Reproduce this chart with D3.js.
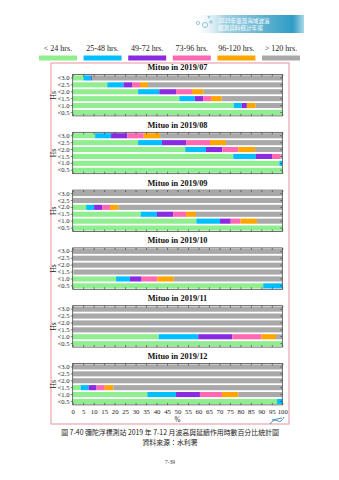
<!DOCTYPE html>
<html><head><meta charset="utf-8">
<script src="https://cdn.jsdelivr.net/npm/d3@7"></script>
<style>html,body{margin:0;padding:0;background:#fff;}svg{display:block;}</style>
</head><body>
<script>
// ---- data ----
const durations = ["< 24 hrs.", "25-48 hrs.", "49-72 hrs.", "73-96 hrs.", "96-120 hrs.", "> 120 hrs."];
const colors = ["#90ee90", "#00bfff", "#8a2be2", "#ff69b4", "#ffa500", "#a9a9a9"];
const hsLevels = ["<3.0", "<2.5", "<2.0", "<1.5", "<1.0", "<0.5"];
const months = ["2019/07", "2019/08", "2019/09", "2019/10", "2019/11", "2019/12"];
const xTicks = [0,5,10,15,20,25,30,35,40,45,50,55,60,65,70,75,80,85,90,95,100];
// percentage of each duration class, per Hs level (rows), per month
const jul = [
  [5.1, 3.7, 0.4, 0, 0, 90.8],
  [16.5, 7.7, 4.1, 3.8, 3.8, 64.1],
  [31.2, 10.1, 8.0, 7.6, 5.4, 37.7],
  [50.9, 7.3, 4.0, 3.8, 5.1, 28.9],
  [76.8, 3.8, 2.5, 0, 4.2, 12.7],
  [100, 0, 0, 0, 0, 0]];
const aug = [
  [10.7, 7.6, 7.8, 7.8, 7.8, 58.3],
  [31.2, 11.4, 11.5, 11.4, 7.6, 26.9],
  [53.7, 9.9, 7.8, 7.6, 8.0, 13.0],
  [76.6, 10.8, 7.7, 4.1, 0, 0.8],
  [98.6, 1.4, 0, 0, 0, 0],
  [100, 0, 0, 0, 0, 0]];
const sep = [
  [0, 0, 0, 0, 0, 100],
  [0, 0, 0, 0, 0, 100],
  [6.4, 3.8, 3.8, 3.8, 4.0, 78.2],
  [32.4, 7.8, 7.7, 6.2, 4.7, 41.2],
  [59.0, 11.3, 5.1, 4.6, 7.9, 12.1],
  [100, 0, 0, 0, 0, 0]];
const oct = [
  [0, 0, 0, 0, 0, 100],
  [0, 0, 0, 0, 0, 100],
  [0, 0, 0, 0, 0, 100],
  [0.5, 0, 0, 0, 0, 99.5],
  [20.7, 6.6, 5.6, 7.5, 7.8, 51.8],
  [90.9, 9.1, 0, 0, 0, 0]];
const nov = [
  [0, 0, 0, 0, 0, 100],
  [0, 0, 0, 0, 0, 100],
  [0, 0, 0, 0, 0, 100],
  [0, 0, 0, 0, 0, 100],
  [41.0, 18.9, 16.3, 13.8, 7.0, 3.0],
  [100, 0, 0, 0, 0, 0]];
const dec = [
  [0, 0, 0, 0, 0, 100],
  [0, 0, 0, 0, 0, 100],
  [0, 0, 0, 0, 0, 100],
  [3.8, 3.8, 3.8, 3.9, 4.1, 80.6],
  [35.6, 13.7, 11.4, 10.5, 7.8, 21.0],
  [97.5, 2.5, 0, 0, 0, 0]];
const monthData = [jul, aug, sep, oct, nov, dec];
const captionText = "圖 7-40 彌陀浮標測站 2019 年 7-12 月波高與延續作用時數百分比統計圖";
const sourceText = "資料來源：水利署";
const pageText = "7-39";
const bannerLines = ["2019年臺灣海域波浪", "觀測資料統計年報"];

// ---- drawing ----
const W = 339, H = 480;
const serif = "'Liberation Serif','DejaVu Serif',serif";
const svg = d3.select("body").append("svg").attr("width", W).attr("height", H);

// banner
const defs = svg.append("defs");
const lg = defs.append("linearGradient").attr("id", "bn").attr("x1", 0).attr("x2", 1);
lg.append("stop").attr("offset", 0).attr("stop-color", "#ffffff").attr("stop-opacity", 0);
lg.append("stop").attr("offset", 0.3).attr("stop-color", "#9fd0e2");
lg.append("stop").attr("offset", 0.9).attr("stop-color", "#2f9cc4");
lg.append("stop").attr("offset", 1).attr("stop-color", "#2f9cc4").attr("stop-opacity", 0.4);
svg.append("rect").attr("x", 192).attr("y", 15).attr("width", 112).attr("height", 18).attr("fill", "url(#bn)");
[[198, 23, 1.6], [205, 25, 2.6], [211, 22, 1.2], [209, 17, 0.8]].forEach(c => {
  svg.append("circle").attr("cx", c[0]).attr("cy", c[1]).attr("r", c[2])
    .attr("fill", "none").attr("stroke", "#7fb8d0").attr("stroke-width", 0.8);
});
bannerLines.forEach((t, i) => {
  svg.append("text").attr("x", 218).attr("y", 22.5 + i * 7.3).text(t)
    .attr("font-family", "'Noto Sans CJK TC',sans-serif").attr("font-size", 5.6)
    .attr("fill", "#fff");
});

// legend
const legX = d3.scalePoint().domain(durations).range([58, 281]);
durations.forEach((d, i) => {
  const cx = legX(d);
  svg.append("text").attr("x", cx).attr("y", 50.5).attr("text-anchor", "middle")
    .attr("font-family", serif).attr("font-size", 8).attr("fill", "#222").text(d);
  svg.append("rect").attr("x", cx - 19).attr("y", 55.5).attr("width", 38).attr("height", 5)
    .attr("fill", colors[i]);
});

// outer frame
svg.append("rect").attr("x", 51).attr("y", 63).attr("width", 238).attr("height", 361)
  .attr("fill", "none").attr("stroke", "#eda3ad").attr("stroke-width", 1.2);

const x = d3.scaleLinear().domain([0, 100]).range([72.7, 282.3]);
const panelStep = 57.8, firstTitle = 67;

monthData.forEach((rows, m) => {
  const ty = firstTitle + m * panelStep;
  const top = ty + 7.5, plotH = 41.4;
  const y = d3.scaleBand().domain(hsLevels).range([top, top + plotH]).paddingInner(0.26).paddingOuter(0.13);
  const g = svg.append("g");
  g.append("text").attr("x", (x(0) + x(100)) / 2).attr("y", ty + 3)
    .attr("text-anchor", "middle").attr("font-family", serif).attr("font-weight", "bold")
    .attr("font-size", 8.3).attr("fill", "#111").text("Mituo in " + months[m]);

  rows.forEach((vals, r) => {
    let acc = 0;
    vals.forEach((v, c) => {
      if (v > 0) {
        g.append("rect").attr("x", x(acc)).attr("y", y(hsLevels[r]))
          .attr("width", x(acc + v) - x(acc)).attr("height", y.bandwidth())
          .attr("fill", colors[c]);
      }
      acc += v;
    });
  });

  // frame
  g.append("rect").attr("x", x(0)).attr("y", top).attr("width", x(100) - x(0)).attr("height", plotH)
    .attr("fill", "none").attr("stroke", "#333").attr("stroke-width", 0.7);

  // y axis
  const ya = g.append("g").attr("transform", `translate(${x(0)},0)`)
    .call(d3.axisLeft(y).tickSize(2).tickPadding(1.2));
  ya.select(".domain").remove();
  ya.selectAll("text").attr("font-family", serif).attr("font-size", 6.6).attr("fill", "#222");
  ya.selectAll("line").attr("stroke", "#333").attr("stroke-width", 0.6);
  const yr = g.append("g").attr("transform", `translate(${x(100)},0)`)
    .call(d3.axisLeft(y).tickSize(2).tickFormat(""));
  yr.select(".domain").remove();
  yr.selectAll("line").attr("stroke", "#333").attr("stroke-width", 0.6);

  // top ticks (inward)
  const xt = g.append("g").attr("transform", `translate(0,${top})`)
    .call(d3.axisBottom(x).tickValues(xTicks).tickSize(2).tickFormat(""));
  xt.select(".domain").remove();
  xt.selectAll("line").attr("stroke", "#333").attr("stroke-width", 0.6);

  // bottom ticks (inward), labels on last panel
  const last = m === monthData.length - 1;
  const xb = g.append("g").attr("transform", `translate(0,${top + plotH})`)
    .call(d3.axisTop(x).tickValues(xTicks).tickSize(2).tickFormat(""));
  xb.select(".domain").remove();
  xb.selectAll("line").attr("stroke", "#333").attr("stroke-width", 0.6);
  if (last) {
    const xl = g.append("g").attr("transform", `translate(0,${top + plotH})`)
      .call(d3.axisBottom(x).tickValues(xTicks).tickSize(0).tickPadding(4).tickFormat(d3.format("d")));
    xl.select(".domain").remove();
    xl.selectAll("text").attr("font-family", serif).attr("font-size", 6.8).attr("fill", "#222");
    g.append("text").attr("x", (x(0) + x(100)) / 2).attr("y", top + plotH + 17)
      .attr("text-anchor", "middle").attr("font-family", serif).attr("font-size", 7.2)
      .attr("fill", "#222").text("%");
  }

  // Hs label
  g.append("text").attr("transform", `translate(56,${top + plotH / 2}) rotate(-90)`)
    .attr("text-anchor", "middle").attr("font-family", serif).attr("font-size", 7.6)
    .attr("fill", "#222").text("Hs");
});

// small mark at the corner
svg.append("path").attr("d", "M270,424 q4,-6 8,-3 q3,2 6,-4 M272,420 l10,-2")
  .attr("fill", "none").attr("stroke", "#4a90c0").attr("stroke-width", 1);

// caption
svg.append("text").attr("x", 170).attr("y", 435).attr("text-anchor", "middle")
  .attr("font-family", "'Noto Sans CJK TC',sans-serif").attr("font-size", 6.9).attr("fill", "#222")
  .text(captionText);
svg.append("text").attr("x", 170).attr("y", 445).attr("text-anchor", "middle")
  .attr("font-family", "'Noto Sans CJK TC',sans-serif").attr("font-size", 6.9).attr("fill", "#222")
  .text(sourceText);
svg.append("text").attr("x", 170).attr("y", 464).attr("text-anchor", "middle")
  .attr("font-family", serif).attr("font-size", 5.5).attr("fill", "#333").text(pageText);
</script>
</body></html>
